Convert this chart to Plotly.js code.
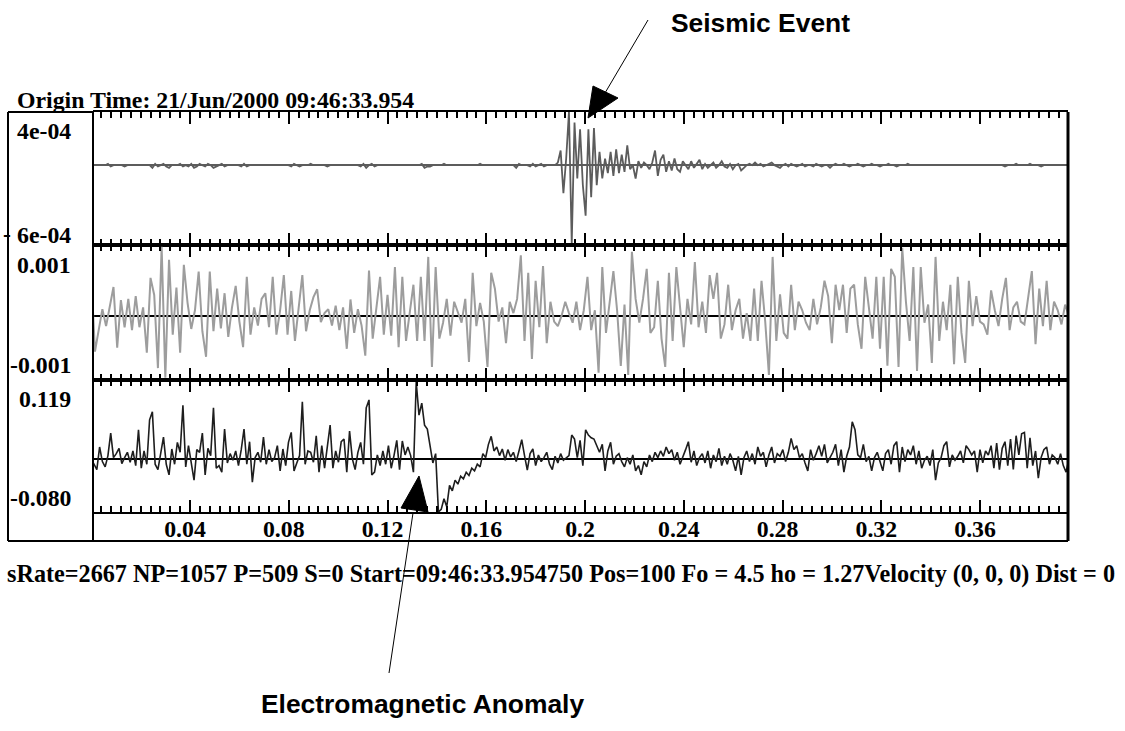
<!DOCTYPE html>
<html><head><meta charset="utf-8">
<script src="https://cdn.plot.ly/plotly-3.0.1.min.js"></script>
<style>html,body{margin:0;padding:0;background:#fff}#chart{width:1125px;height:731px}</style>
</head><body><div id="chart"></div>
<script>
// ---- data ----
const sRate = 2667;            // samples per second (from caption)
const seismicStep = 3;         // samples between plotted points
const noiseStep = 4;
const emStep = 3;

// channel 1 (seismic), units of 1e-5
const seismic_e5 = [
0,0,0,0,0,0,1,-1,0,0,0,0,-1,0,0,0,0,0,0,0,0,
0,-2,1,-1,0,1,-1,-2,0,0,
0,1,-1,0,-1,1,-2,-1,1,0,-1,1,0,-2,-1,0,1,-1,0,0,
0,0,0,-1,1,-1,0,0,0,0,0,0,0,0,0,0,0,0,0,0,0,-1,1,0,-1,
0,0,0,1,0,0,0,0,0,-1,0,0,0,0,0,0,0,0,0,0,0,-1,1,-2,0,
1,-1,0,0,0,0,0,0,0,0,0,0,0,0,0,0,0,0,1,-2,-1,-1,0,0,0,
0,1,0,0,0,0,0,0,0,0,0,0,0,0,1,0,0,0,0,0,0,0,0,0,0,
0,0,-2,1,0,0,0,-1,1,-1,0,1,-1,0,0,0,0,2,
11,-21,5,40,-59,32,-10,27,-15,-38,27,-24,28,-15,10,-10,5,-6,10,-8,
12,-6,8,-5,15,-3,0,-10,3,-2,2,0,-3,2,11,-8,4,8,-5,3,
-4,5,-3,-5,3,0,-3,3,-2,1,4,-3,1,-2,0,2,-2,0,3,-1,
-2,1,-3,0,1,-4,-2,0,1,0,2,0,1,-1,0,1,2,0,-1,-2,
0,1,-1,1,0,-1,0,1,-1,0,0,-1,1,0,-1,0,0,-2,0,1,
0,0,1,0,-1,0,0,1,0,-1,0,0,1,0,0,-1,0,0,1,0,0,-1,0,0,0,1,
0,0,0,0,0,0,0,0,0,0,0,0,0,0,0,0,0,0,0,0,0,0,0,0,0,0,0,0,0,0,0,0,0,0,
-1,0,0,0,1,0,0,0,0,1,0,0,0,-1,0,0,0,0,0,0,0,0,0,0
];

// channel 2 (background noise), units of 1e-5
const noise_e5 = [
69,-63,-25,12,-18,20,51,-56,28,-20,
30,-25,35,-20,15,-65,67,37,-92,122,
-109,99,-33,50,-65,90,23,-23,10,78,
-27,-72,78,-27,48,-22,40,-37,15,53,
-10,-55,69,-33,15,-17,30,40,-20,69,
-33,10,72,-33,44,-44,20,72,-27,10,
33,47,-11,5,12,-17,18,-25,15,-58,
29,-30,12,-17,-70,80,-40,10,69,-33,
37,-35,86,-55,69,-44,10,55,-44,69,
-44,104,-90,86,-40,-12,30,-35,25,5,
-12,30,-81,76,-18,23,-10,-90,76,48,
-10,15,-48,25,5,30,107,-44,76,-76,
62,-20,88,-48,25,-10,-18,0,25,5,
-12,25,-25,10,69,-25,10,-100,86,-30,
20,79,10,-88,20,-104,113,30,-12,30,
83,-30,-20,62,-40,-90,76,-44,86,20,
-55,30,-15,95,-20,25,-30,72,30,76,
-40,-15,55,-25,10,30,-40,5,-44,48,
-44,62,-10,-104,104,-44,38,-30,-40,55,
-25,25,10,-12,-25,30,-15,15,62,35,
-48,55,10,55,-30,48,55,-15,-58,69,
15,-40,69,-58,69,-88,83,69,-90,120,
25,-44,86,-97,86,-12,20,-83,104,-44,
25,-25,55,-85,69,-30,-83,62,-18,35,
-10,-15,-33,45,10,-18,30,67,-25,15,
25,-10,-15,30,79,-50,48,-18,62,-25,
25,10,-15,20,0
];

// channel 3 (electromagnetic), units of 1e-3
const em_e3 = [
-14,-8,-16,18,-4,-12,5,39,2,8,
16,-7,2,10,-5,12,-10,44,-14,12,
-8,59,71,-8,-16,12,33,-8,-24,15,
-8,25,10,81,-12,20,-8,-32,14,10,
39,-24,16,5,77,-14,-10,-20,45,-6,
8,-2,12,-10,14,45,-8,26,-35,2,
10,-5,33,-8,14,-4,2,20,-18,15,
-10,25,40,-18,-6,5,86,-8,12,10,
-5,35,-20,20,-14,15,51,-14,12,-5,
26,30,-20,42,0,-16,10,25,-8,77,
89,-24,-20,6,-10,12,-8,20,-14,5,
28,-16,27,6,18,5,-20,116,66,84,
51,45,22,-6,8,-80,-76,-60,-72,-40,
-48,-32,-38,-26,-30,-20,-25,-14,-18,-8,
-12,8,2,22,34,12,18,5,15,-2,
14,3,10,-4,12,29,5,-17,8,15,
-10,6,-4,2,10,-8,-16,4,-6,8,
-2,2,5,36,30,2,28,-10,44,36,
32,30,20,10,22,-18,12,25,-8,4,
8,-4,-12,2,-8,6,-18,-10,-24,-4,
-12,6,-4,10,2,12,4,18,8,14,
-2,10,-8,2,14,26,-5,12,-10,2,
8,-6,12,-14,6,-4,16,-10,4,-8,
8,-2,-18,4,-24,2,12,-4,8,-8,
18,4,10,-12,6,18,-6,8,4,14,
-4,10,31,14,20,2,8,-6,-18,14,
-2,8,20,4,22,-6,2,10,22,-10,
14,-20,4,18,56,44,6,2,22,-4,
4,-18,2,10,-4,-18,8,14,-8,20,
26,-20,18,-4,14,6,20,-8,12,-14,
-2,4,-10,14,-32,-6,2,20,26,-12,
6,-2,4,12,-6,20,14,6,12,-20,
14,-6,12,6,20,-14,24,-16,16,26,
-10,30,-16,35,6,38,40,-14,32,-10,
12,-29,2,14,18,-8,6,2,-8,8,
-10,-20,0
];

const topLabels = ["4e-04", "0.001", "0.119"];
const bottomLabels = ["6e-04", "-0.001", "-0.080"];
const yRanges = [[-60, 40], [-113, 125], [-80, 119]];
const originText = "Origin Time: 21/Jun/2000 09:46:33.954";
const captionText = "sRate=2667 NP=1057 P=509 S=0 Start=09:46:33.954750 Pos=100 Fo = 4.5 ho = 1.27Velocity (0, 0, 0) Dist = 0";
const seismicLabel = "Seismic Event";
const emLabel = "Electromagnetic Anomaly";

// ---- layout helpers ----
const W = 1125, H = 731;
const px = x => x / W;
const py = y => 1 - y / H;
const serif = {family: "Liberation Serif, Times New Roman, serif", size: 23.8, weight: "bold", color: "#000"};
const sans = {family: "Liberation Sans, Arial, sans-serif", size: 26.4, weight: "bold", color: "#000"};

const traces = [
  {y: seismic_e5, x0: 0, dx: seismicStep / sRate, xaxis: "x", yaxis: "y", type: "scatter", mode: "lines",
   line: {color: "#5c5c5c", width: 1.8}, hoverinfo: "skip"},
  {y: noise_e5, x0: 0, dx: noiseStep / sRate, xaxis: "x2", yaxis: "y2", type: "scatter", mode: "lines",
   line: {color: "#9d9d9d", width: 2}, hoverinfo: "skip"},
  {y: em_e3, x0: 0, dx: emStep / sRate, xaxis: "x3", yaxis: "y3", type: "scatter", mode: "lines",
   line: {color: "#1e1e1e", width: 1.6}, hoverinfo: "skip"}
];

const xdom = [px(93), px(1068)];
const ydoms = [[py(245), py(112)], [py(380), py(245)], [py(512), py(380)]];
function xax(anchor, labels) {
  return {domain: xdom, anchor: anchor, range: [0.0007, 0.3956], showgrid: false, zeroline: false,
    showline: true, linecolor: "#000", linewidth: 2, mirror: "ticks",
    ticks: "inside", ticklen: 12, tickwidth: 2, tickcolor: "#000", tick0: 0, dtick: 0.04,
    minor: {ticks: "inside", dtick: 0.004, ticklen: 6, tickwidth: 2, tickcolor: "#000"},
    showticklabels: labels, tickfont: serif, ticklabelshift: -5, ticklabelstandoff: -6, fixedrange: true};
}
function yax(i, zc) {
  return {domain: ydoms[i], range: yRanges[i], anchor: i === 0 ? "x" : "x" + (i + 1),
    showgrid: false, showline: false, ticks: "", showticklabels: false,
    zeroline: true, zerolinecolor: zc, zerolinewidth: 1.8, fixedrange: true};
}

const L = (x0, y0, x1, y1, w) => ({type: "line", xref: "paper", yref: "paper",
  x0: px(x0), y0: py(y0), x1: px(x1), y1: py(y1), line: {color: "#000", width: w}});
const tri = (pts) => ({type: "path", xref: "paper", yref: "paper",
  path: "M" + pts.map(p => px(p[0]) + "," + py(p[1])).join(" L") + " Z",
  fillcolor: "#000", line: {color: "#000", width: 1}});

const shapes = [
  L(8, 112, 93, 112, 2), L(8, 112, 8, 541, 2), L(8, 541, 1068, 541, 2),
  L(93, 112, 93, 541, 2), L(1068, 112, 1068, 541, 3),
  L(648, 20, 605, 93, 1), tri([[588, 118], [593, 86], [618, 98]]),
  L(389, 673, 413, 513, 1), tri([[419, 476], [401, 508], [428, 512]])
];

const A = (text, x, y, xanchor, font) => ({text: text, xref: "paper", yref: "paper",
  x: px(x), y: py(y), xanchor: xanchor, yanchor: "middle", showarrow: false, font: font});
const labelYs = [[130.5, 234.5], [265, 365], [398.5, 497.5]];
const annotations = [
  A(originText, 15, 100.5, "left", serif),
  A(captionText, 5, 574, "left", Object.assign({}, serif, {size: 24.2})),
  A(seismicLabel, 669, 23.5, "left", sans),
  A(emLabel, 259, 704, "left", sans),
  A("-", 7, 234, "center", serif)
];
for (let i = 0; i < 3; i++) {
  annotations.push(A(topLabels[i], 73, labelYs[i][0], "right", serif));
  annotations.push(A(bottomLabels[i], 73, labelYs[i][1], "right", serif));
}

const layout = {
  width: W, height: H, margin: {l: 0, r: 0, t: 0, b: 0},
  paper_bgcolor: "#fff", plot_bgcolor: "rgba(0,0,0,0)", showlegend: false,
  xaxis: xax("y", false), xaxis2: xax("y2", false), xaxis3: xax("y3", true),
  yaxis: yax(0, "#5c5c5c"), yaxis2: yax(1, "#000"), yaxis3: yax(2, "#000"),
  shapes: shapes, annotations: annotations
};
Plotly.newPlot("chart", traces, layout, {displayModeBar: false, staticPlot: true});
</script></body></html>
